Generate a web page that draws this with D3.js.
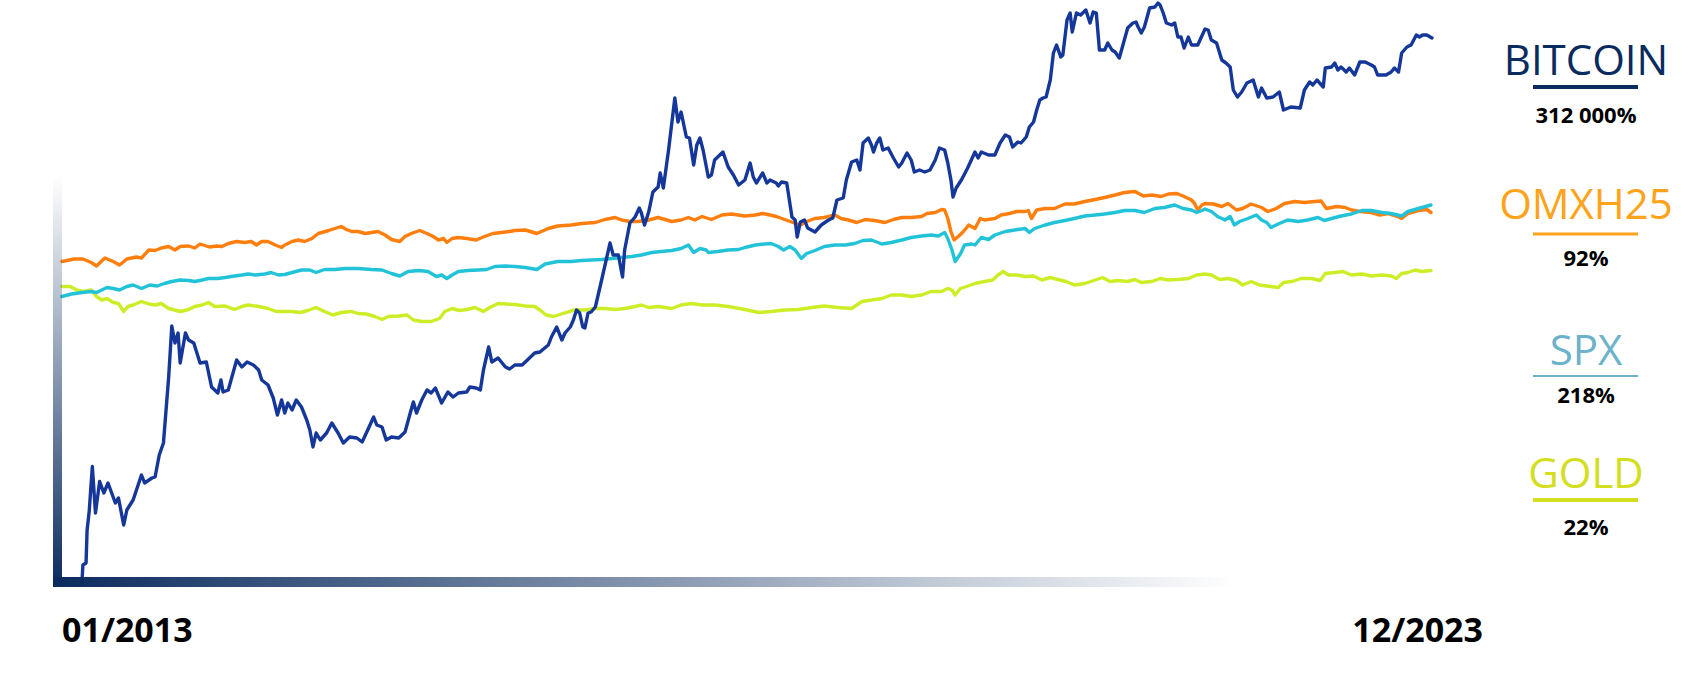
<!DOCTYPE html>
<html>
<head>
<meta charset="utf-8">
<script src="https://cdn.jsdelivr.net/npm/d3@7"></script>
<style>
  body { margin: 0; background: #fff; }
  svg { display: block; font-family: "Open Sans", sans-serif; }
</style>
</head>
<body>
<svg id="chart" width="1700" height="700"></svg>
<script>
"use strict";

// x = months since 01/2013, y = relative level (chart units, axis not labelled)
const bitcoin = [
  [1.9,-0.6],[2.0,3.0],[2.3,3.4],[2.4,10],[2.6,13.7],[2.9,22.7],[3.2,13.4],[3.6,19.7],[4.0,17.4],[4.4,19.4],
  [5.1,15.4],[5.4,16.4],[5.9,11],[6.2,14],[6.8,16],[7.6,21],[7.9,19.4],[8.6,20.4],[8.9,20.6],[9.3,25],
  [9.7,27.4],[10.2,40.6],[10.5,50.8],[10.8,47.4],[11.1,49.4],[11.3,43.4],[11.8,49.4],[12.1,48],[12.6,47.4],[13.2,43.4],
  [13.8,43.6],[14.3,38.6],[14.9,37.4],[15.2,40],[15.4,37.6],[15.9,38],[16.7,44],[17.2,42.6],[17.7,43.6],[18.3,43],
  [18.8,42],[19.1,40],[19.7,39],[20.2,36.4],[20.6,33],[21.0,36],[21.3,33.4],[21.6,35.4],[22.0,34],[22.4,36],
  [22.9,34.6],[23.4,32],[23.7,30],[24.0,26.6],[24.3,29.4],[24.7,28],[25.3,29.4],[25.8,31.4],[26.4,29.4],[26.9,27.4],
  [27.5,28.6],[28.2,28.4],[28.7,27.6],[29.1,29.4],[29.8,32.6],[30.1,31],[30.6,30.6],[31.0,28],[31.5,28.6],[32.2,28.4],
  [32.8,29.6],[33.3,33.4],[33.6,35.6],[33.9,33.4],[34.4,36],[34.9,38],[35.3,37.4],[35.7,38.4],[36.3,35.4],[36.9,37.6],
  [37.4,36.6],[37.9,37.4],[38.7,37.6],[39.0,38.6],[39.6,38.4],[40.0,38],[40.3,42],[40.8,46.6],[41.1,43.6],[41.7,44.4],
  [42.4,42.6],[42.8,42.2],[43.3,43],[44.0,43],[44.7,44.4],[45.2,45.4],[45.7,45.6],[46.5,47],[46.8,48.6],[47.3,50.6],
  [47.8,48],[48.1,49.4],[48.6,50.6],[48.9,52],[49.2,54],[49.5,53.4],[49.8,50.6],[50.0,50.4],[50.3,53.4],[50.6,53.6],
  [51.0,54.6],[51.6,60],[52.4,67.4],[52.7,65],[53.2,65],[53.6,60.6],[53.8,66],[54.3,71.4],[54.8,72.6],[55.2,74.4],
  [55.4,73.4],[55.7,71],[56.1,73.6],[56.5,77.6],[57.0,78.6],[57.2,81.4],[57.5,78.4],[58.0,86],[58.6,96.4],[58.9,91.6],
  [59.2,93.6],[59.7,88.6],[60.0,88.4],[60.4,83],[60.7,87],[61.0,88.4],[61.3,86],[61.8,80.6],[62.1,81],[62.4,84],
  [63.2,85.6],[63.7,82.6],[64.2,81],[64.7,79],[65.3,80],[65.8,83.4],[66.1,80.6],[66.4,79.4],[67.0,81.4],[67.4,79.4],
  [67.7,80],[68.3,79.4],[68.5,78.8],[68.8,79.6],[69.3,79.4],[69.8,72.6],[70.1,72],[70.3,68.6],[70.6,71.6],[71.0,72],
  [71.3,70.4],[72.0,69.6],[72.6,71],[73.3,72],[73.7,72.4],[74.1,76],[74.7,76.4],[75.0,80],[75.5,83.6],[76.0,84],
  [76.3,82],[76.6,87.4],[77.1,88.4],[77.4,87],[77.6,85.6],[77.9,87.4],[78.2,88.4],[78.5,86],[79.0,86.4],[79.5,84.4],
  [80.0,82.6],[80.3,83.4],[80.8,85.4],[81.2,84],[81.5,81.6],[82.0,82],[82.5,81.6],[83.0,82],[83.5,84],[83.9,86.4],
  [84.4,86],[84.7,83.4],[85.0,80],[85.2,76.6],[85.5,78.4],[86.0,80],[86.6,82.4],[87.3,85.6],[87.6,84.4],[87.9,85.6],
  [88.6,85],[89.2,85],[89.7,87.4],[90.2,89],[90.6,88.6],[90.9,86.6],[91.4,87.6],[91.7,87.4],[92.2,88.6],[92.5,90.6],
  [92.9,91.6],[93.2,94],[93.5,96],[93.8,96.4],[94.1,96.6],[94.5,100],[94.8,105.4],[95.1,107],[95.5,104.6],[95.7,105],
  [96.1,112],[96.4,113.4],[96.6,109.6],[97.0,113.4],[97.4,113],[97.9,114],[98.3,111.4],[98.6,113.6],[98.9,113.4],[99.2,106],
  [99.7,106],[100.0,107.4],[100.4,106],[100.7,105.6],[101.1,104.4],[101.5,107.4],[101.9,110.4],[102.4,111.4],[102.7,111.6],[102.9,110.6],
  [103.2,109.4],[103.5,110.6],[104.0,114.4],[104.5,114.6],[104.8,115.4],[105.0,115],[105.3,113.4],[105.6,111.4],[106.1,111],[106.4,111.4],
  [106.7,108.6],[107.0,108.6],[107.3,106.4],[107.7,108.6],[108.0,107],[108.6,107],[109.3,110.2],[109.6,110],[109.9,108],[110.4,107.4],
  [110.9,104],[111.3,103.4],[111.7,102.6],[112.0,98],[112.4,96.6],[112.8,97.6],[113.3,99.4],[113.9,100],[114.4,96.6],[114.7,98.4],
  [115.2,96.4],[115.8,96.6],[116.4,97.6],[116.8,94],[117.5,94.6],[118.4,94.4],[118.8,98],[119.3,99.6],[119.6,99],[120.0,100],
  [120.6,98.6],[120.8,102.4],[121.4,102.6],[121.7,103.4],[122.0,102],[122.3,102.6],[122.8,101.6],[123.1,102.4],[123.6,101],[124.1,103.6],
  [124.6,103.6],[125.2,103],[125.5,102.6],[125.8,101],[126.6,101],[127.1,101.6],[127.4,102.4],[127.8,101.6],[128.1,105.4],[128.6,106.6],
  [129.0,107],[129.5,109],[129.8,108.6],[130.1,109],[130.5,109],[131.0,108.4]
];

const omxh25 = [
  [0,63.7],[1.2,64.2],[2.0,64.2],[2.8,63.5],[3.3,62.8],[4.1,64.4],[4.9,63.7],[5.5,63],[6.2,64.2],[7.1,64.6],
  [7.6,64.4],[8.3,66],[8.9,65.9],[9.5,66.4],[10.2,66.7],[10.8,66],[11.3,66.7],[12.1,66.8],[12.7,66.4],[13.2,67.2],
  [14.1,66.6],[14.8,66.8],[15.3,66.7],[15.9,67.3],[16.7,67.7],[17.5,67.5],[18.1,67.7],[18.6,67],[19.1,67.7],[19.7,67.7],
  [20.4,67],[21.0,66.5],[21.3,67],[22.0,67.7],[22.6,68],[23.2,67.7],[23.9,68.3],[24.5,69.3],[25.5,69.9],[26.1,70.3],
  [26.7,70.7],[27.2,70.1],[27.7,69.7],[28.3,69.7],[29.0,69.3],[29.6,69.5],[30.2,69.7],[30.9,69],[31.5,68.1],[32.3,67.7],
  [32.8,68.7],[33.4,69.3],[34.2,69.9],[34.9,69.3],[35.5,68.7],[36.0,68],[36.5,68.3],[36.8,67.5],[37.3,68.3],[37.9,68.5],
  [38.7,68.3],[39.6,68],[40.4,68.7],[41.2,69.3],[42.0,69.5],[42.8,69.7],[43.3,69.9],[44.3,70],[45.4,69.3],[46.5,70.3],
  [47.4,70.8],[48.7,71],[49.7,71.3],[51.0,71.5],[51.9,72.1],[52.9,72.5],[53.5,72],[54.3,71.7],[55.1,71.7],[56.1,72],
  [57.0,72.5],[58.3,71.7],[59.2,72],[59.9,72.5],[60.5,72],[61.2,72.7],[62.1,72.1],[63.1,73],[64.0,73.2],[65.3,72.8],
  [66.3,73],[67.0,73.3],[67.7,73],[68.3,72.7],[69.1,72.1],[69.9,71.5],[70.6,71],[71.2,71.7],[72.0,72.3],[72.9,72.5],
  [73.9,73],[74.5,72.3],[75.2,72],[76.0,71.5],[76.8,72.1],[77.7,71.9],[78.7,71.5],[79.5,72.1],[80.3,72.5],[81.2,72.5],
  [82.2,72.7],[82.7,73.3],[83.5,73.5],[84.1,74.1],[84.4,74],[84.7,72.3],[85.0,69.7],[85.3,68],[85.7,68.7],[86.2,69.7],
  [86.7,71],[87.3,70.3],[87.8,72.3],[88.2,72],[89.2,72.3],[89.8,73],[90.6,73.3],[91.3,73.7],[92.1,73.7],[92.4,73.9],
  [92.7,72.3],[93.2,74],[94.0,74.3],[94.9,74.3],[95.9,75.2],[96.8,75.2],[97.8,75.7],[98.8,76.1],[99.7,76.5],[100.7,77],
  [101.6,77.5],[102.6,77.7],[103.4,76.8],[104.2,77],[105.1,76.7],[105.8,77.2],[106.6,77.3],[107.2,76.8],[108.0,76],[108.3,75.3],
  [108.6,74],[109.0,75],[109.3,75.3],[110.1,75.2],[110.9,74.7],[111.5,75.3],[112.3,74],[112.9,74.3],[113.7,75.2],[114.7,74.5],
  [115.3,73.7],[116.1,74.3],[116.9,75.3],[117.9,75.7],[118.8,75.5],[119.8,75.7],[120.4,75.8],[120.9,74.3],[121.9,74.7],[122.7,74.5],
  [123.3,74],[124.1,73.7],[125.2,73.5],[126.0,73],[126.8,73.3],[127.6,72.8],[128.1,72.3],[128.7,73.3],[129.7,73.9],[130.5,74.1],
  [130.9,73.5]
];

const spx = [
  [0,56.7],[0.9,57.2],[1.9,57.5],[2.8,57.7],[3.3,57.5],[4.3,58.5],[4.9,58.3],[5.5,58],[6.2,58.7],[6.8,59],
  [7.6,58.3],[8.4,59],[9.1,58.8],[9.8,59.3],[10.5,59.7],[11.3,60],[12.1,59.9],[12.7,59.7],[13.4,60],[14.0,60.3],
  [14.9,60.3],[15.6,60.5],[16.5,60.8],[17.2,61],[17.8,61.2],[18.5,61],[19.4,61.2],[20.0,61.5],[20.7,61],[21.3,61.1],
  [22.0,61.5],[22.9,62],[23.7,62],[24.3,61.5],[25.1,62.1],[26.1,62.1],[27.1,62.3],[28.3,62.3],[29.6,62.1],[30.6,62],
  [31.5,61.3],[32.3,60.8],[33.1,61.7],[34.1,61.9],[35.0,61.7],[35.8,60.7],[36.3,61],[36.8,60.3],[37.3,61],[37.9,61.7],
  [38.8,61.9],[39.8,62],[40.6,62.1],[41.4,62.7],[42.4,62.8],[43.3,62.7],[44.3,62.5],[45.4,62.1],[46.2,63.2],[47.4,63.7],
  [48.7,63.7],[49.7,63.9],[50.6,64],[51.6,64.1],[52.6,64.3],[53.5,64.5],[54.5,64.7],[55.4,65],[56.4,65.5],[57.3,65.7],
  [58.3,65.9],[59.2,66.3],[59.9,67],[60.4,65.5],[61.0,66.3],[61.6,66],[61.8,65.5],[62.7,65.7],[63.7,66],[64.7,66.1],
  [65.3,66.5],[66.3,67],[67.2,67.2],[67.8,67.3],[68.5,66.7],[69.0,66],[69.6,66.7],[70.1,66],[70.7,64.3],[71.2,65.3],
  [72.0,65.9],[72.9,66.7],[73.9,67],[74.9,67],[75.8,67.3],[76.6,67.9],[77.4,68],[78.4,67.2],[79.3,67.5],[80.3,68],
  [81.2,68.5],[82.2,68.8],[83.1,69],[83.8,68.8],[84.4,69.5],[84.7,68.3],[85.1,66],[85.4,63.7],[85.9,65.2],[86.3,67],
  [87.0,67.2],[87.3,67],[87.9,68.5],[88.6,68.1],[89.2,69],[90.2,69.7],[91.1,70],[92.1,70.3],[92.5,69.5],[93.0,70.3],
  [94.0,71],[94.9,71.5],[95.9,71.9],[96.8,72.3],[97.8,72.8],[98.8,73],[99.7,73.2],[100.7,73.5],[101.6,73.9],[102.6,73.9],
  [103.5,73.5],[104.5,74.3],[105.4,74.5],[106.4,75],[107.2,74.3],[108.0,74],[108.5,73.5],[109.0,73.9],[109.3,74.2],[109.9,73.7],
  [110.5,72.7],[111.2,72],[111.7,72.7],[112.1,71],[112.6,71.7],[113.4,72.3],[114.2,73],[114.7,72],[115.2,71.5],[115.6,70.5],
  [116.3,71.2],[117.2,72],[118.2,71.7],[119.1,72],[120.1,72.5],[120.7,71.9],[121.4,72.3],[122.3,72.8],[123.3,73.2],[124.3,73.9],
  [125.2,73.9],[126.2,73.5],[127.1,73.3],[128.1,72.8],[128.7,73.7],[129.7,74.3],[130.9,75]
];

const gold = [
  [0,58.7],[0.8,58.7],[1.4,58],[2.0,57.7],[2.8,58],[3.3,56.7],[3.8,56],[4.3,56.3],[4.9,55.5],[5.4,55.3],
  [5.9,53.7],[6.3,54.7],[6.8,55],[7.6,55.7],[8.3,55.2],[8.9,55],[9.5,55.3],[10.2,54.3],[11.3,53.7],[12.1,54.1],
  [12.7,54.7],[13.4,55],[14.0,55.5],[14.6,54.7],[15.6,54.8],[16.5,54.1],[17.2,54.7],[17.8,55],[18.8,54.7],[19.7,54.3],
  [20.5,53.7],[21.3,53.7],[22.0,53.7],[22.8,53.5],[23.5,53.9],[24.3,54.5],[25.1,53.7],[25.9,53],[26.7,53.5],[27.7,53.7],
  [28.3,53.3],[29.1,53.2],[29.9,52.7],[30.6,52.1],[31.2,52.7],[32.2,52.8],[33.0,53],[33.6,52],[34.4,51.7],[35.3,51.7],
  [36.1,52.3],[36.6,53.7],[37.3,54.3],[38.0,53.9],[38.7,54.1],[39.5,54.5],[40.3,53.7],[40.9,54.5],[41.7,55.3],[42.5,55.2],
  [43.3,55.1],[44.3,54.8],[45.2,54.7],[45.7,54],[46.3,53],[47.0,52.7],[47.9,53.3],[49.0,54],[50.0,54],[51.0,54.3],
  [51.9,54.3],[52.9,54.1],[53.8,54.3],[54.8,54.7],[55.4,55],[56.1,54.5],[57.0,54.7],[58.3,54.3],[59.2,55],[60.2,55.3],
  [61.2,55],[62.4,55],[63.7,54.7],[65.3,54.1],[66.6,53.5],[67.8,53.7],[69.1,54],[70.4,54.1],[71.7,54.5],[72.9,54.8],
  [74.2,54.5],[75.5,54.3],[76.5,55.7],[77.4,56],[78.4,56.3],[79.3,57],[80.3,57],[81.2,56.7],[82.2,57],[83.1,57.7],
  [84.1,57.7],[84.7,58.3],[85.1,58],[85.4,57],[85.9,58.3],[86.5,58.7],[87.3,59.3],[88.2,59.7],[89.0,60],[89.5,61],
  [90.0,61.7],[90.5,61],[91.3,61],[92.1,60.7],[92.9,60.8],[93.7,60],[94.5,60.5],[95.2,60.1],[96.0,59.7],[96.8,59],
  [97.8,59.3],[98.8,60],[99.5,60.5],[100.2,59.7],[101.0,59.9],[101.9,59.7],[102.6,60.1],[103.2,59.5],[104.2,59.7],[105.0,60.3],
  [105.8,60],[106.7,60.1],[107.7,60.3],[108.5,61],[109.3,61.2],[109.9,61],[110.7,60.1],[111.5,60.3],[112.3,59.9],[112.9,59],
  [113.7,59.7],[114.5,59],[115.2,58.8],[115.6,58.7],[116.3,58.5],[116.8,59.5],[117.6,59.7],[118.5,60.3],[119.5,60.3],[120.3,59.9],
  [120.8,61.3],[121.7,61.5],[122.5,61.7],[123.3,61],[124.3,61.2],[125.2,60.8],[126.2,61],[127.1,60.8],[127.6,60.3],[128.1,61.3],
  [128.7,61.5],[129.4,62],[130.0,61.7],[130.9,61.9]
];

const seriesNames = ["BITCOIN", "OMXH25", "SPX", "GOLD"];
const totalReturns = ["312 000%", "92%", "218%", "22%"];
const dateLabels = ["01/2013", "12/2023"];

const svg = d3.select("#chart");

const x = d3.scaleLinear().domain([0, 131]).range([62, 1432]);
const y = d3.scaleLinear().domain([0, 116]).range([580, 0]);

const navy = "#0a2b5e";

const defs = svg.append("defs");
const gx = defs.append("linearGradient").attr("id", "gx")
    .attr("gradientUnits", "userSpaceOnUse")
    .attr("x1", 53).attr("x2", 1235).attr("y1", 0).attr("y2", 0);
gx.append("stop").attr("offset", 0).attr("stop-color", navy).attr("stop-opacity", 1);
gx.append("stop").attr("offset", 1).attr("stop-color", navy).attr("stop-opacity", 0);

const gy = defs.append("linearGradient").attr("id", "gy")
    .attr("gradientUnits", "userSpaceOnUse")
    .attr("x1", 0).attr("x2", 0).attr("y1", 587).attr("y2", 176);
gy.append("stop").attr("offset", 0).attr("stop-color", navy).attr("stop-opacity", 1);
gy.append("stop").attr("offset", 1).attr("stop-color", navy).attr("stop-opacity", 0);

const line = d3.line()
    .x(d => x(d[0]))
    .y(d => y(d[1]));

const series = [
  { name: "GOLD", data: gold, color: "#cdee27" },
  { name: "OMXH25", data: omxh25, color: "#ff7f0e" },
  { name: "SPX", data: spx, color: "#22c3d9" },
  { name: "BITCOIN", data: bitcoin, color: "#15379a" }
];

svg.append("g")
  .selectAll("path")
  .data(series)
  .join("path")
    .attr("d", d => line(d.data))
    .attr("fill", "none")
    .attr("stroke", d => d.color)
    .attr("stroke-width", 3.4)
    .attr("stroke-linejoin", "round")
    .attr("stroke-linecap", "round");

// axis bars drawn after the lines so the bitcoin start hides under them
svg.append("rect")
    .attr("x", 53).attr("y", 577).attr("width", 1182).attr("height", 10)
    .attr("fill", "url(#gx)");
svg.append("rect")
    .attr("x", 53).attr("y", 176).attr("width", 9).attr("height", 411)
    .attr("fill", "url(#gy)");

// date labels
svg.append("text")
    .attr("x", x(0)).attr("y", 642)
    .attr("font-size", 34).attr("font-weight", 700).attr("fill", "#000")
    .text(dateLabels[0]);
svg.append("text")
    .attr("x", x(131) + 51).attr("y", 642)
    .attr("text-anchor", "end")
    .attr("font-size", 34).attr("font-weight", 700).attr("fill", "#000")
    .text(dateLabels[1]);

// legend on the right
const legendColors = [navy, "#ffa31a", "#6cb2cb", "#d3de1d"];
const legendBase = [75, 219, 365, 488];
const ruleY = [87, 234, 376, 500];
const ruleW = [4, 3, 2, 4];
const pctBase = [123, 266, 403, 535];
const cx = 1586;

const legend = svg.append("g");
seriesNames.forEach((n, i) => {
  legend.append("text")
      .attr("x", cx).attr("y", legendBase[i])
      .attr("text-anchor", "middle")
      .attr("font-size", 42).attr("font-weight", 400)
      .attr("fill", legendColors[i])
      .text(n);
  legend.append("rect")
      .attr("x", 1533).attr("y", ruleY[i] - ruleW[i] / 2)
      .attr("width", 105).attr("height", ruleW[i])
      .attr("fill", legendColors[i]);
  legend.append("text")
      .attr("x", cx).attr("y", pctBase[i])
      .attr("text-anchor", "middle")
      .attr("font-size", 22).attr("font-weight", 700)
      .attr("fill", "#000")
      .text(totalReturns[i]);
});
</script>
</body>
</html>
